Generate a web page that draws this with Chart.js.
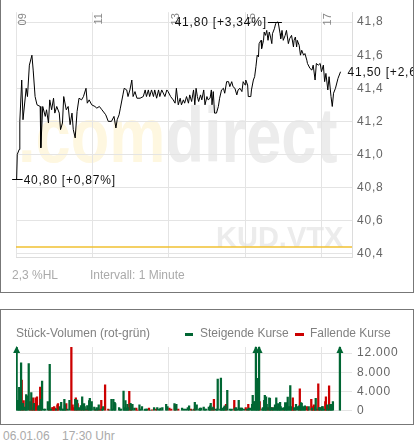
<!DOCTYPE html>
<html lang="de">
<head>
<meta charset="UTF-8">
<title>KUD.VTX Intraday</title>
<script src="https://cdn.jsdelivr.net/npm/chart.js"></script>
<style>
  body { margin: 0; background: #fff; font-family: "Liberation Sans", Arial, sans-serif; }
  #wrap { position: relative; width: 417px; height: 443px; overflow: hidden; }
  .panel { position: absolute; left: 0; width: 414px; box-sizing: border-box; border: 1px solid #777; }
  canvas { position: absolute; left: 1px; }
  .txt { position: absolute; font-size: 12px; line-height: 14px; color: #aaa; white-space: nowrap; }
  .mark { position: absolute; height: 3px; }
</style>
</head>
<body>
<div id="wrap">
  <div class="panel" style="top:-5px;height:298px"></div>
  <canvas id="priceChart" width="412" height="292" style="top:0"></canvas>
  <div class="txt" style="left:12px;top:268px">2,3 %HL</div>
  <div class="txt" style="left:90px;top:268px">Intervall: 1 Minute</div>

  <div class="panel" style="top:309px;height:116px"></div>
  <canvas id="volChart" width="412" height="113" style="top:310px"></canvas>
  <div class="txt" style="left:16px;top:326px;color:#808080">Stück-Volumen (rot-grün)</div>
  <div class="mark" style="left:185px;top:333px;width:8px;background:#006633"></div>
  <div class="txt" style="left:200px;top:326px;color:#808080">Steigende Kurse</div>
  <div class="mark" style="left:295px;top:333px;width:9px;background:#cc0000"></div>
  <div class="txt" style="left:310px;top:326px;color:#808080">Fallende Kurse</div>

  <div class="txt" style="left:3px;top:429px">06.01.06</div>
  <div class="txt" style="left:62px;top:429px">17:30 Uhr</div>
</div>

<script>
// minutes after 09:00
const timeTicks = [0, 120, 240, 360, 480];
const timeLabels = ['09', '11', '13', '15', '17'];

const priceMinutes = [1, 2, 5, 6, 9, 11, 16, 18, 21, 25, 27, 30, 33, 38, 39, 42, 46, 48, 51, 53, 56, 59, 61, 64, 68, 70, 73, 75, 79, 82, 85, 88, 90, 93, 96, 99, 103, 106, 110, 112, 115, 119, 124, 127, 131, 135, 141, 145, 150, 154, 157, 159, 162, 164, 168, 170, 174, 176, 179, 182, 184, 187, 190, 195, 200, 203, 205, 208, 210, 213, 216, 218, 221, 224, 226, 229, 234, 237, 239, 243, 247, 250, 252, 255, 258, 260, 263, 265, 268, 271, 273, 276, 279, 281, 283, 285, 287, 290, 292, 295, 297, 300, 302, 305, 307, 308, 310, 312, 315, 318, 320, 323, 326, 328, 331, 334, 336, 339, 341, 344, 347, 349, 352, 355, 357, 360, 361, 364, 365, 369, 370, 373, 375, 377, 379, 381, 382, 385, 386, 389, 390, 392, 394, 396, 398, 400, 402, 403, 406, 408, 410, 412, 415, 416, 418, 420, 423, 425, 428, 430, 433, 436, 437, 439, 441, 442, 445, 447, 449, 452, 454, 457, 458, 462, 465, 467, 470, 472, 475, 478, 480, 483, 485, 487, 490, 492, 495, 497, 499, 502, 506, 510];
const prices = [40.85, 41.00, 41.03, 41.20, 41.45, 41.21, 41.40, 41.35, 41.54, 41.60, 41.51, 41.35, 41.30, 41.29, 41.04, 41.29, 41.23, 41.27, 41.19, 41.33, 41.27, 41.34, 41.25, 41.29, 41.25, 41.15, 41.19, 41.35, 41.27, 41.29, 41.18, 41.25, 41.15, 41.10, 41.26, 41.34, 41.33, 41.35, 41.40, 41.31, 41.33, 41.30, 41.29, 41.28, 41.29, 41.27, 41.24, 41.20, 41.20, 41.23, 41.16, 41.21, 41.24, 41.28, 41.36, 41.40, 41.39, 41.35, 41.39, 41.45, 41.35, 41.38, 41.34, 41.34, 41.35, 41.39, 41.35, 41.39, 41.35, 41.39, 41.35, 41.39, 41.34, 41.39, 41.35, 41.39, 41.35, 41.39, 41.38, 41.35, 41.33, 41.31, 41.40, 41.30, 41.34, 41.30, 41.33, 41.31, 41.35, 41.31, 41.36, 41.32, 41.39, 41.30, 41.40, 41.35, 41.32, 41.36, 41.33, 41.39, 41.30, 41.35, 41.33, 41.34, 41.39, 41.30, 41.38, 41.25, 41.25, 41.29, 41.34, 41.39, 41.40, 41.37, 41.44, 41.44, 41.41, 41.44, 41.41, 41.40, 41.36, 41.39, 41.40, 41.38, 41.44, 41.42, 41.45, 41.42, 41.35, 41.35, 41.39, 41.45, 41.47, 41.53, 41.60, 41.59, 41.67, 41.69, 41.64, 41.69, 41.74, 41.72, 41.75, 41.69, 41.74, 41.71, 41.67, 41.73, 41.76, 41.79, 41.80, 41.80, 41.73, 41.70, 41.75, 41.69, 41.72, 41.75, 41.67, 41.70, 41.72, 41.65, 41.69, 41.71, 41.65, 41.69, 41.66, 41.60, 41.63, 41.60, 41.61, 41.57, 41.55, 41.52, 41.51, 41.54, 41.45, 41.55, 41.54, 41.55, 41.50, 41.54, 41.44, 41.49, 41.39, 41.47, 41.35, 41.29, 41.37, 41.40, 41.46, 41.50];
const prevClose = 40.44;
const priceTicks = [40.4, 40.6, 40.8, 41.0, 41.2, 41.4, 41.6, 41.8];
const highLabel = '41,80 [+3,34%]';
const lowLabel = '40,80 [+0,87%]';
const lastLabel = '41,50 [+2,60%]';

const upMinutes = [1, 3, 5, 6, 8, 11, 14, 16, 17, 20, 24, 28, 35, 36, 39, 41, 44, 46, 50, 53, 55, 63, 69, 71, 73, 74, 76, 77, 81, 84, 93, 96, 99, 102, 104, 107, 108, 112, 115, 116, 118, 119, 123, 126, 127, 130, 135, 137, 147, 150, 151, 153, 155, 156, 162, 164, 165, 169, 170, 172, 173, 175, 176, 180, 183, 186, 194, 195, 198, 202, 203, 205, 206, 211, 217, 222, 225, 227, 230, 236, 238, 249, 252, 261, 264, 267, 270, 272, 277, 281, 284, 288, 289, 291, 295, 297, 299, 303, 305, 306, 310, 314, 316, 317, 321, 322, 324, 325, 327, 328, 332, 336, 338, 339, 344, 346, 347, 350, 352, 354, 355, 358, 363, 366, 369, 371, 372, 374, 376, 377, 379, 380, 382, 387, 388, 390, 391, 393, 394, 398, 399, 401, 404, 405, 407, 409, 410, 412, 413, 415, 416, 418, 421, 423, 424, 426, 427, 429, 431, 432, 437, 440, 443, 445, 448, 449, 451, 453, 454, 460, 465, 470, 471, 476, 478, 481, 482, 484, 489, 490, 493, 495, 496, 498, 509];
const upVolumes = [20000, 2200, 4900, 1900, 9970, 1560, 750, 3380, 3110, 9840, 3780, 1560, 890, 1100, 2370, 6200, 350, 350, 1900, 9640, 350, 410, 890, 1760, 350, 350, 2370, 1225, 350, 2170, 2370, 2230, 690, 1100, 2910, 1500, 890, 1100, 2100, 2570, 550, 1900, 750, 350, 690, 1225, 350, 890, 210, 2370, 350, 2370, 1760, 1500, 690, 350, 350, 4120, 690, 2100, 550, 1360, 690, 1560, 1360, 550, 1225, 350, 890, 210, 350, 350, 350, 150, 690, 690, 350, 550, 690, 1360, 890, 1500, 1360, 550, 350, 350, 690, 1020, 210, 1760, 1225, 350, 550, 550, 750, 350, 350, 750, 1020, 1560, 750, 350, 350, 6610, 350, 6810, 350, 550, 750, 1020, 4250, 350, 210, 350, 550, 690, 350, 2170, 550, 550, 550, 350, 350, 550, 550, 1360, 3240, 1900, 1900, 20000, 1900, 6740, 20000, 410, 690, 2170, 3240, 2910, 1360, 2700, 2570, 690, 550, 690, 1225, 2700, 890, 1500, 350, 1760, 890, 550, 690, 1700, 1020, 1700, 2840, 890, 5260, 890, 690, 1360, 890, 1020, 1700, 1560, 890, 550, 1020, 890, 550, 750, 2570, 690, 690, 890, 890, 350, 1225, 350, 1360, 1360, 1360, 1900, 20000];
const downMinutes = [9, 12, 22, 25, 27, 30, 31, 33, 38, 52, 57, 58, 60, 61, 65, 66, 79, 87, 89, 91, 94, 97, 101, 105, 110, 113, 124, 129, 132, 134, 140, 145, 178, 181, 189, 191, 209, 214, 220, 241, 244, 250, 255, 275, 280, 308, 311, 330, 343, 361, 365, 383, 396, 402, 420, 434, 435, 438, 446, 457, 459, 464, 467, 468, 473, 475, 479, 486, 487, 492];
const downVolumes = [6400, 2100, 1900, 690, 2700, 1560, 2700, 2910, 4920, 410, 690, 690, 890, 550, 1225, 1500, 1500, 13200, 1225, 690, 2700, 1500, 410, 690, 350, 410, 350, 410, 350, 2170, 5400, 350, 4050, 1360, 550, 150, 550, 210, 350, 550, 350, 1225, 350, 350, 350, 550, 2370, 1360, 2170, 690, 1360, 1900, 690, 690, 350, 690, 2700, 350, 4590, 890, 350, 2370, 890, 1225, 350, 5600, 690, 1900, 2910, 5200];
const volTicks = [0, 2000, 4000, 6000, 8000, 10000, 12000];

const FONT = '"Liberation Sans", Arial, sans-serif';
const GRID = '#e4e4e4';

const priceDecor = {
  id: 'priceDecor',
  beforeDraw(chart) {
    const ctx = chart.ctx;
    ctx.save();
    ctx.font = 'bold 78px ' + FONT;
    ctx.translate(17, 162);
    ctx.scale(0.81, 1);
    ctx.fillStyle = '#fef7e0';
    ctx.fillText('.com', 0, 0);
    const w = ctx.measureText('.com').width;
    ctx.fillStyle = '#ececec';
    ctx.fillText('direct', w, 0);
    ctx.restore();
    ctx.save();
    ctx.font = 'bold 29px ' + FONT;
    ctx.fillStyle = '#ececec';
    ctx.fillText('KUD.VTX', 215, 247);
    ctx.restore();
    ctx.letterSpacing = '0.8px';
  },
  afterDatasetsDraw(chart) {
    const {ctx, chartArea: a} = chart;
    const xs = chart.scales.x, ys = chart.scales.y;
    ctx.save();
    ctx.letterSpacing = '0px';
    ctx.font = '11px ' + FONT;
    ctx.fillStyle = '#888';
    timeTicks.forEach((t, i) => {
      const x = xs.getPixelForValue(t);
      ctx.save();
      ctx.translate(x + 1.5, a.top + 1);
      ctx.rotate(-Math.PI / 2);
      ctx.textAlign = 'right';
      ctx.textBaseline = 'top';
      ctx.fillText(timeLabels[i], 0, 0);
      ctx.restore();
    });
    ctx.restore();

    ctx.save();
    ctx.letterSpacing = '0.8px';
    ctx.font = '12px ' + FONT;
    ctx.fillStyle = '#111';
    ctx.strokeStyle = '#000';
    ctx.lineWidth = 1;
    ctx.textBaseline = 'middle';
    const hi = prices.indexOf(Math.max(...prices));
    const lo = prices.indexOf(Math.min(...prices));
    const last = prices.length - 1;
    let x = xs.getPixelForValue(priceMinutes[hi]);
    let y = Math.round(ys.getPixelForValue(prices[hi])) + 0.5;
    ctx.beginPath(); ctx.moveTo(x - 9, y); ctx.lineTo(x + 5, y); ctx.stroke();
    ctx.textAlign = 'right';
    ctx.fillText(highLabel, x - 10, y);
    x = xs.getPixelForValue(priceMinutes[lo]);
    y = Math.round(ys.getPixelForValue(prices[lo])) + 0.5;
    ctx.beginPath(); ctx.moveTo(x - 4.5, y); ctx.lineTo(x + 6, y); ctx.stroke();
    ctx.textAlign = 'left';
    ctx.fillText(lowLabel, x + 7, y + 1);
    x = xs.getPixelForValue(priceMinutes[last]);
    y = ys.getPixelForValue(prices[last]);
    ctx.fillText(lastLabel, x + 7, y + 1);
    ctx.restore();
  }
};

new Chart(document.getElementById('priceChart'), {
  type: 'line',
  data: {
    datasets: [
      {
        data: priceMinutes.map((m, i) => ({x: m, y: prices[i]})),
        borderColor: '#000',
        borderWidth: 1,
        borderJoinStyle: 'bevel',
        pointRadius: 0,
        tension: 0
      },
      {
        data: [{x: 0, y: prevClose}, {x: 528, y: prevClose}],
        borderColor: '#f0c030',
        borderWidth: 1.5,
        pointRadius: 0
      }
    ]
  },
  options: {
    responsive: false,
    animation: false,
    devicePixelRatio: 1,
    layout: {padding: {left: 15, top: 12, right: 0, bottom: 35}},
    plugins: {legend: {display: false}, tooltip: {enabled: false}},
    scales: {
      x: {
        type: 'linear', min: 0, max: 528,
        afterBuildTicks: s => { s.ticks = timeTicks.map(v => ({value: v})); },
        afterFit: s => { s.height = 0; },
        ticks: {display: false},
        grid: {color: GRID, drawTicks: false},
        border: {color: '#dcdcdc'}
      },
      y: {
        position: 'right', min: 40.38, max: 41.86,
        afterBuildTicks: s => { s.ticks = priceTicks.map(v => ({value: v})); },
        afterFit: s => { s.width = 61; },
        ticks: {
          callback: v => v.toFixed(1).replace('.', ','),
          color: '#666', padding: 5, font: {family: FONT, size: 12}
        },
        grid: {color: GRID, drawTicks: false},
        border: {color: '#dcdcdc'}
      }
    }
  },
  plugins: [priceDecor]
});

const volArrows = {
  id: 'volArrows',
  beforeDraw(chart) { chart.ctx.letterSpacing = '0.8px'; },
  afterDatasetsDraw(chart) {
    const {ctx, chartArea: a} = chart;
    const max = chart.scales.y.max;
    ctx.save();
    chart.data.datasets.forEach((ds, di) => {
      chart.getDatasetMeta(di).data.forEach((bar, i) => {
        if (ds.data[i].y <= max) return;
        ctx.fillStyle = ds.backgroundColor;
        ctx.beginPath();
        ctx.moveTo(bar.x, a.top - 1);
        ctx.lineTo(bar.x - 3.5, a.top + 6);
        ctx.lineTo(bar.x + 3.5, a.top + 6);
        ctx.closePath();
        ctx.fill();
      });
    });
    ctx.restore();
  }
};

new Chart(document.getElementById('volChart'), {
  type: 'bar',
  data: {
    datasets: [
      {
        label: 'Steigende Kurse',
        data: upMinutes.map((m, i) => ({x: m, y: upVolumes[i]})),
        backgroundColor: '#006633',
        barThickness: 1.6,
        grouped: false
      },
      {
        label: 'Fallende Kurse',
        data: downMinutes.map((m, i) => ({x: m, y: downVolumes[i]})),
        backgroundColor: '#cc0000',
        barThickness: 1.6,
        grouped: false
      }
    ]
  },
  options: {
    responsive: false,
    animation: false,
    devicePixelRatio: 1,
    layout: {padding: {left: 15, top: 37, right: 0, bottom: 10}},
    plugins: {legend: {display: false}, tooltip: {enabled: false}},
    scales: {
      x: {
        type: 'linear', min: 0, max: 528, offset: false,
        afterBuildTicks: s => { s.ticks = timeTicks.map(v => ({value: v})); },
        afterFit: s => { s.height = 0; },
        ticks: {display: false},
        grid: {color: GRID, drawTicks: false, offset: false},
        border: {display: false}
      },
      y: {
        position: 'right', min: 0, max: 13270,
        afterBuildTicks: s => { s.ticks = volTicks.map(v => ({value: v})); },
        afterFit: s => { s.width = 61; },
        ticks: {
          callback: v => v === 0 ? '0' : (v % 4000 === 0 ? (v / 1000) + '.000' : ''),
          color: '#666', padding: 5, font: {family: FONT, size: 12}
        },
        grid: {color: GRID, drawTicks: false},
        border: {display: false}
      }
    }
  },
  plugins: [volArrows]
});
</script>
</body>
</html>
